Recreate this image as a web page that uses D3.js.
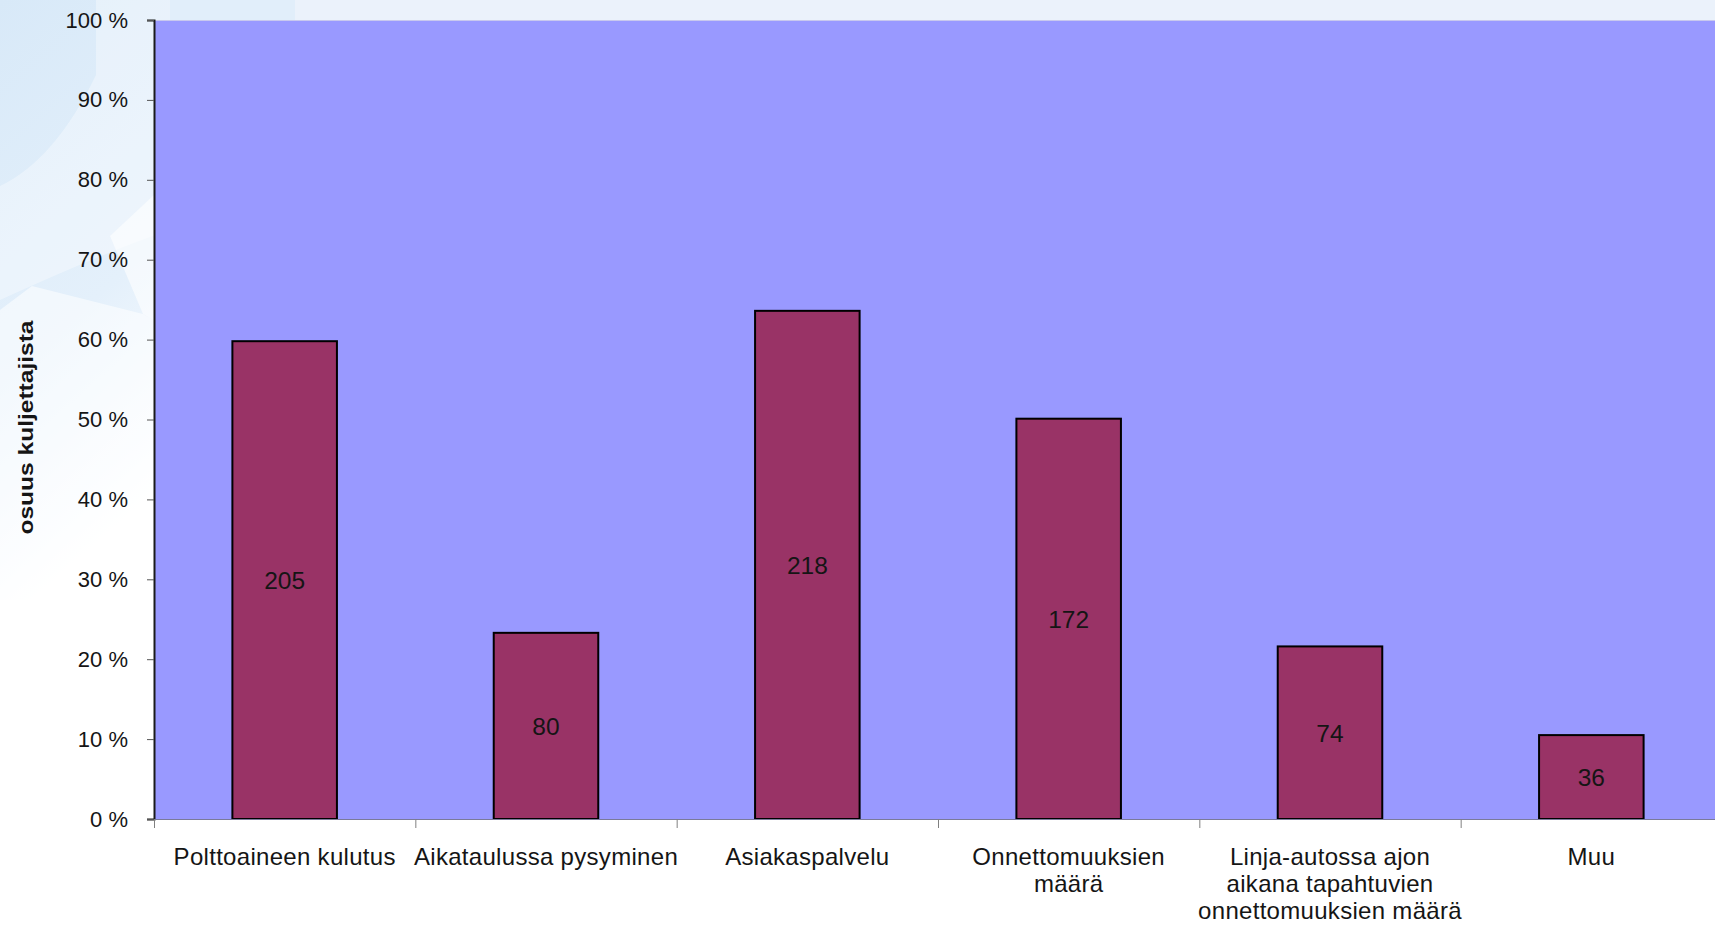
<!DOCTYPE html>
<html>
<head>
<meta charset="utf-8">
<script src="https://cdn.jsdelivr.net/npm/d3@7"></script>
<style>
  html, body { margin: 0; padding: 0; background: #ffffff; }
  svg { display: block; }
  text { font-family: "Liberation Sans", Arial, sans-serif; fill: #151515; }
</style>
</head>
<body>
<svg id="chart" width="1715" height="925"></svg>
<script>
// Survey: which indicators drivers follow (share of drivers, with respondent counts)
const categories = [
  "Polttoaineen kulutus",
  "Aikataulussa pysyminen",
  "Asiakaspalvelu",
  "Onnettomuuksien määrä",
  "Linja-autossa ajon aikana tapahtuvien onnettomuuksien määrä",
  "Muu"
];
const categoryLines = [
  ["Polttoaineen kulutus"],
  ["Aikataulussa pysyminen"],
  ["Asiakaspalvelu"],
  ["Onnettomuuksien", "määrä"],
  ["Linja-autossa ajon", "aikana tapahtuvien", "onnettomuuksien määrä"],
  ["Muu"]
];
const shares = [59.8, 23.3, 63.6, 50.1, 21.6, 10.5];   // % of drivers
const counts = [205, 80, 218, 172, 74, 36];           // number of drivers
const yTicks = [0, 10, 20, 30, 40, 50, 60, 70, 80, 90, 100];
const yTitle = "osuus kuljettajista";

const W = 1715, H = 925;
const plot = { left: 154, top: 20, bottom: 819, right: 1722 };

const svg = d3.select("#chart");

// ---- slide background ----
const defs = svg.append("defs");
const g1 = defs.append("linearGradient").attr("id", "bgLeft")
  .attr("x1", 0).attr("y1", 0).attr("x2", 0.25).attr("y2", 1);
g1.append("stop").attr("offset", "0%").attr("stop-color", "#d8e9f8");
g1.append("stop").attr("offset", "60%").attr("stop-color", "#e4f0fb");
g1.append("stop").attr("offset", "100%").attr("stop-color", "#ffffff");

svg.append("rect").attr("width", W).attr("height", H).attr("fill", "#ffffff");
svg.append("rect").attr("x", 0).attr("y", 0).attr("width", W).attr("height", 40).attr("fill", "#ebf2fb");
svg.append("rect").attr("x", 0).attr("y", 0).attr("width", 295).attr("height", 40).attr("fill", "#e1eefa");
svg.append("rect").attr("x", 0).attr("y", 0).attr("width", 170).attr("height", 600).attr("fill", "url(#bgLeft)");

// soft light shapes of the background emblem
const bgShapes = svg.append("g").attr("fill", "#ffffff");
bgShapes.append("path")
  .attr("d", "M0,186 Q55,160 96,75 L96,0 L170,0 L170,230 Q110,250 0,300 Z")
  .attr("opacity", 0.35);
bgShapes.append("path")
  .attr("d", "M110,236 L170,180 L170,330 L143,314 Z")
  .attr("opacity", 0.6);
bgShapes.append("path")
  .attr("d", "M0,310 L32,286 L143,314 L170,330 L170,600 L0,600 Z")
  .attr("opacity", 0.55);

// ---- scales ----
const x = d3.scaleBand()
  .domain(categories)
  .range([plot.left, plot.right])
  .paddingInner(0.6)
  .paddingOuter(0.3);

const y = d3.scaleLinear()
  .domain([0, 100])
  .range([plot.bottom, plot.top]);

// ---- plot area ----
svg.append("rect")
  .attr("x", plot.left).attr("y", plot.top)
  .attr("width", plot.right - plot.left)
  .attr("height", plot.bottom - plot.top)
  .attr("fill", "#9999ff");
svg.append("line")
  .attr("x1", plot.left).attr("x2", plot.right)
  .attr("y1", plot.top + 0.5).attr("y2", plot.top + 0.5)
  .attr("stroke", "#c8c8ee").attr("stroke-width", 1);

// ---- bars ----
const data = categories.map((c, i) => ({ c, share: shares[i], count: counts[i], lines: categoryLines[i] }));

svg.append("g").selectAll("rect")
  .data(data)
  .join("rect")
  .attr("x", d => x(d.c))
  .attr("y", d => y(d.share))
  .attr("width", x.bandwidth())
  .attr("height", d => y(0) - y(d.share))
  .attr("fill", "#993366")
  .attr("stroke", "#000000")
  .attr("stroke-width", 2);

// value labels inside the bars
svg.append("g").selectAll("text")
  .data(data)
  .join("text")
  .attr("x", d => x(d.c) + x.bandwidth() / 2)
  .attr("y", d => (y(d.share) + y(0)) / 2)
  .attr("dy", "0.36em")
  .attr("text-anchor", "middle")
  .attr("font-size", 24.5)
  .text(d => d.count);

// ---- y axis ----
const yAxis = svg.append("g")
  .attr("transform", `translate(${plot.left},0)`)
  .call(d3.axisLeft(y).tickValues(yTicks).tickFormat(d => d + " %").tickSize(7).tickPadding(19));
yAxis.select(".domain").attr("stroke", "#1a1a1a").attr("stroke-width", 2);
yAxis.selectAll(".tick line").attr("stroke", "#555555");
yAxis.selectAll(".tick text")
  .attr("font-size", 22)
  .attr("font-family", "'Liberation Sans', Arial, sans-serif")
  .attr("fill", "#262626");

// ---- x axis ----
svg.append("line")
  .attr("x1", plot.left).attr("x2", plot.right)
  .attr("y1", plot.bottom + 0.5).attr("y2", plot.bottom + 0.5)
  .attr("stroke", "#7a7a9a").attr("stroke-width", 1);

const step = x.step();
const boundaries = categories.map(c => x(c) + x.bandwidth() / 2 - step / 2);
svg.append("g").selectAll("line")
  .data(boundaries)
  .join("line")
  .attr("x1", d => d + 0.5).attr("x2", d => d + 0.5)
  .attr("y1", plot.bottom).attr("y2", plot.bottom + 9)
  .attr("stroke", "#808080").attr("stroke-width", 1);

// category labels (wrapped lines)
const catText = svg.append("g").selectAll("text")
  .data(data)
  .join("text")
  .attr("text-anchor", "middle")
  .attr("font-size", 24)
  .attr("letter-spacing", 0.3)
  .attr("fill", "#1a1a1a")
  .attr("x", d => x(d.c) + x.bandwidth() / 2)
  .attr("y", 865);
catText.selectAll("tspan")
  .data(d => d.lines.map((t, i) => ({ t, i, cx: x(d.c) + x.bandwidth() / 2 })))
  .join("tspan")
  .attr("x", d => d.cx)
  .attr("y", d => 865 + d.i * 27)
  .text(d => d.t);

// ---- y axis title ----
svg.append("text")
  .attr("transform", `translate(33,${(plot.top + plot.bottom) / 2 + 8}) rotate(-90)`)
  .attr("text-anchor", "middle")
  .attr("font-size", 21)
  .attr("font-weight", "bold")
  .attr("textLength", 214)
  .attr("lengthAdjust", "spacingAndGlyphs")
  .text(yTitle);
</script>
</body>
</html>
